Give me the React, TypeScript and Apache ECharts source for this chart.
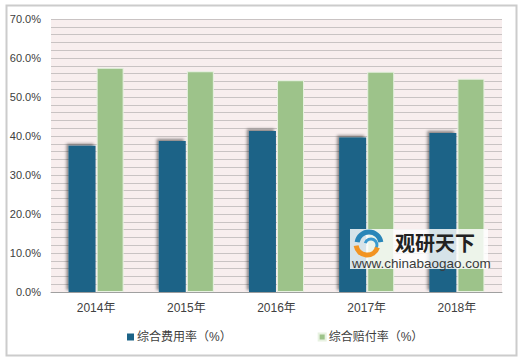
import React, { useEffect, useRef } from "react";
import * as echarts from "echarts";

const categories = ["2014年", "2015年", "2016年", "2017年", "2018年"];
const expenseRate = [37.5, 38.7, 41.3, 39.6, 40.8];
const claimRate = [57.5, 56.6, 54.3, 56.5, 54.7];
const seriesNames = ["综合费用率（%）", "综合赔付率（%）"];

const FONT = 'Arial, "Liberation Sans", "Noto Sans CJK SC", sans-serif';

export default function App() {
  const ref = useRef<HTMLDivElement>(null);
  useEffect(() => {
    if (!ref.current) return;
    const chart = echarts.init(ref.current, undefined, { renderer: "svg" });
    chart.setOption({
      animation: false,
      backgroundColor: "#ffffff",
      textStyle: { fontFamily: FONT },
      grid: {
        left: 51,
        right: 18,
        top: 19,
        bottom: 66,
        show: true,
        backgroundColor: "#f8eeee",
        borderWidth: 0,
      },
      legend: {
        data: seriesNames,
        left: 122,
        top: 326,
        itemWidth: 7,
        itemHeight: 7,
        itemGap: 86,
        icon: "rect",
        textStyle: { color: "#404040", fontSize: 12, fontFamily: FONT, padding: [0, 0, 0, -2] },
      },
      xAxis: {
        type: "category",
        data: categories,
        axisLine: { show: true, lineStyle: { color: "#a0a0a0", width: 1 } },
        axisTick: { show: false },
        axisLabel: { color: "#404040", fontSize: 12, margin: 10, fontFamily: FONT },
      },
      yAxis: {
        type: "value",
        min: 0,
        max: 70,
        interval: 10,
        axisLine: { show: false },
        axisTick: { show: false },
        axisLabel: {
          color: "#404040",
          fontSize: 11,
          margin: 10,
          fontFamily: FONT,
          formatter: (v: number) => v.toFixed(1) + "%",
        },
        splitLine: { show: true, lineStyle: { color: "#c9c3c3", width: 1 } },
        minorTick: { show: false, splitNumber: 5 },
        minorSplitLine: { show: true, lineStyle: { color: "#c9c3c3", width: 1 } },
      },
      series: [
        {
          name: seriesNames[0],
          type: "bar",
          data: expenseRate,
          barWidth: 27,
          barGap: "4%",
          itemStyle: {
            color: "#1b6387",
            shadowColor: "rgba(0,0,0,0.45)",
            shadowBlur: 3,
            shadowOffsetX: -2,
            shadowOffsetY: -2,
          },
        },
        {
          name: seriesNames[1],
          type: "bar",
          data: claimRate,
          barWidth: 27,
          itemStyle: {
            color: "#9dc38a",
            borderColor: "#e8f2e2",
            borderWidth: 1,
          },
        },
      ],
      graphic: [
        {
          type: "rect",
          left: 4,
          top: 3,
          shape: { width: 510, height: 350 },
          style: { fill: "none", stroke: "#cccccc", lineWidth: 2 },
          silent: true,
        },
        {
          type: "rect",
          z: 100,
          silent: true,
          shape: { x: 350, y: 229, width: 138, height: 40 },
          style: { fill: "rgba(255,255,255,0.82)" },
        },
        {
          type: "arc",
          z: 101,
          silent: true,
          shape: { cx: 369, cy: 244, r: 12, startAngle: Math.PI * 1.05, endAngle: Math.PI * 1.95 },
          style: { stroke: "#2a86b8", lineWidth: 5, fill: "none" },
        },
        {
          type: "arc",
          z: 101,
          silent: true,
          shape: { cx: 371, cy: 245, r: 6, startAngle: Math.PI * 1.1, endAngle: Math.PI * 2.2 },
          style: { stroke: "#3a9ad0", lineWidth: 3, fill: "none" },
        },
        {
          type: "arc",
          z: 101,
          silent: true,
          shape: { cx: 367, cy: 244, r: 11, startAngle: Math.PI * 0.1, endAngle: Math.PI * 0.95 },
          style: { stroke: "#f29422", lineWidth: 5, fill: "none" },
        },
        {
          type: "text",
          z: 101,
          silent: true,
          x: 395,
          y: 232,
          style: {
            text: "观研天下",
            fill: "#222222",
            font: 'bold 20px "Noto Sans CJK SC", sans-serif',
            lineHeight: 20,
          },
        },
        {
          type: "text",
          z: 101,
          silent: true,
          x: 352,
          y: 256,
          style: {
            text: "www.chinabaogao.com",
            fill: "#3a3a3a",
            font: '13.5px Arial, "Liberation Sans", sans-serif',
            lineHeight: 14,
          },
        },
      ],
    });
    return () => chart.dispose();
  }, []);
  return (
    <div
      ref={ref}
      style={{ position: "fixed", left: 0, top: 0, width: 520, height: 358 }}
    />
  );
}
